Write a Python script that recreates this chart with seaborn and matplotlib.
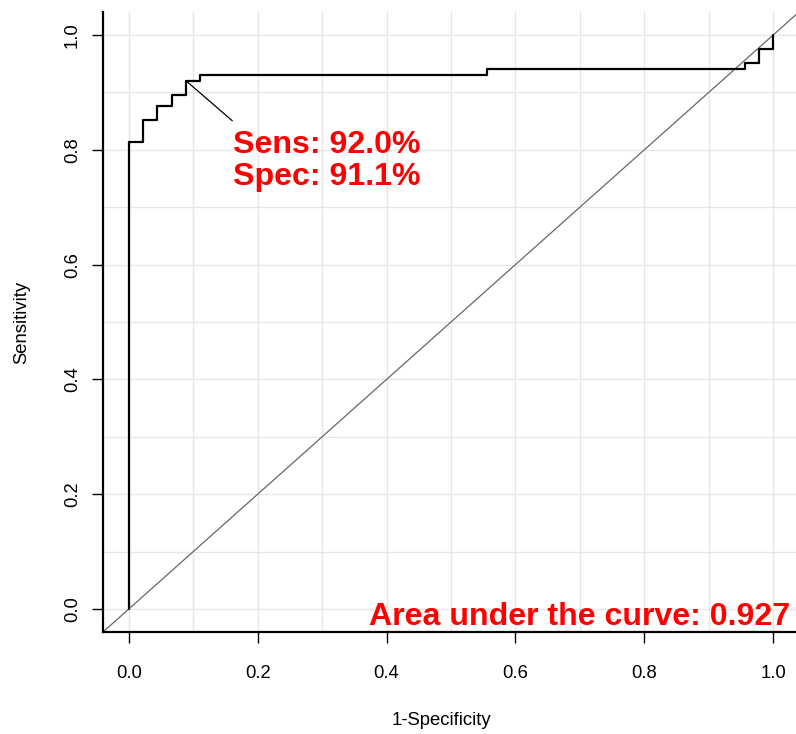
import matplotlib
matplotlib.use("Agg")
import matplotlib.pyplot as plt
import seaborn as sns
import pandas as pd
import numpy as np

# ROC curve corner points (1-specificity, sensitivity)
fpr = [0.0, 0.0, 0.022, 0.044, 0.067, 0.089, 0.111, 0.556, 0.956, 0.978, 1.0]
tpr = [0.0, 0.813, 0.852, 0.877, 0.895, 0.920, 0.931, 0.940, 0.951, 0.975, 1.0]
best_fpr, best_tpr = 0.089, 0.920
sens_label = "Sens: 92.0%"
spec_label = "Spec: 91.1%"
auc_label = "Area under the curve: 0.927"
ticks = [0.0, 0.2, 0.4, 0.6, 0.8, 1.0]
tick_labels = ["0.0", "0.2", "0.4", "0.6", "0.8", "1.0"]

sns.set_theme(style="white")
plt.rcParams['font.family'] = ['Liberation Sans', 'DejaVu Sans']

W, H = 796, 734
fig = plt.figure(figsize=(W / 100, H / 100), dpi=100)
ax = fig.add_axes([103 / W, (H - 632) / H, (799 - 103) / W, (632 - 12) / H])

ax.set_xlim(-0.04, 1.04)
ax.set_ylim(-0.04, 1.04)

# grid
for g in np.arange(0, 1.0001, 0.1):
    ax.axvline(g, color="#e6e6e6", lw=1.0, zorder=0)
    ax.axhline(g, color="#e6e6e6", lw=1.0, zorder=0)

ax.axline((0, 0), (1, 1), color="#666666", lw=0.9, zorder=1)

df = pd.DataFrame({"fpr": fpr, "tpr": tpr})
sns.lineplot(data=df, x="fpr", y="tpr", sort=False, estimator=None,
             drawstyle="steps-post", color="black", lw=1.6, ax=ax, zorder=3)

ax.annotate("", xy=(best_fpr, best_tpr), xytext=(0.1606, 0.8506),
            arrowprops=dict(arrowstyle="-", color="black", lw=0.9,
                            shrinkA=0, shrinkB=0), zorder=3)
ax.text(0.161, 0.7944, sens_label, color="red", fontsize=23.1, fontweight="bold",
        va="baseline", ha="left", zorder=4)
ax.text(0.161, 0.7386, spec_label, color="red", fontsize=23.1, fontweight="bold",
        va="baseline", ha="left", zorder=4)
ax.text(1.026, -0.0278, auc_label, color="red", fontsize=23.1, fontweight="bold",
        va="baseline", ha="right", zorder=4)

ax.set_xticks(ticks)
ax.set_xticklabels(tick_labels)
ax.set_yticks(ticks)
ax.set_yticklabels(tick_labels, rotation=90, va="center")
ax.tick_params(axis="both", which="both", direction="out", length=8, width=1,
               color="black", labelcolor="black", labelsize=13.3,
               left=True, bottom=True)
ax.tick_params(axis="x", pad=16)
ax.tick_params(axis="y", pad=8)

for s in ["top", "right"]:
    ax.spines[s].set_visible(False)
for s in ["left", "bottom"]:
    ax.spines[s].set_color("black")
    ax.spines[s].set_linewidth(1.6)

ax.set_xlabel("1-Specificity", fontsize=13.3, color="black")
ax.set_ylabel("Sensitivity", fontsize=13.3, color="black")
ax.xaxis.set_label_coords((441 - 103) / (799 - 103), -(712 - 632) / (632 - 12))
ax.yaxis.set_label_coords(-(103 - 30) / (799 - 103), 0.5)

fig.savefig("out.png", dpi=100)
